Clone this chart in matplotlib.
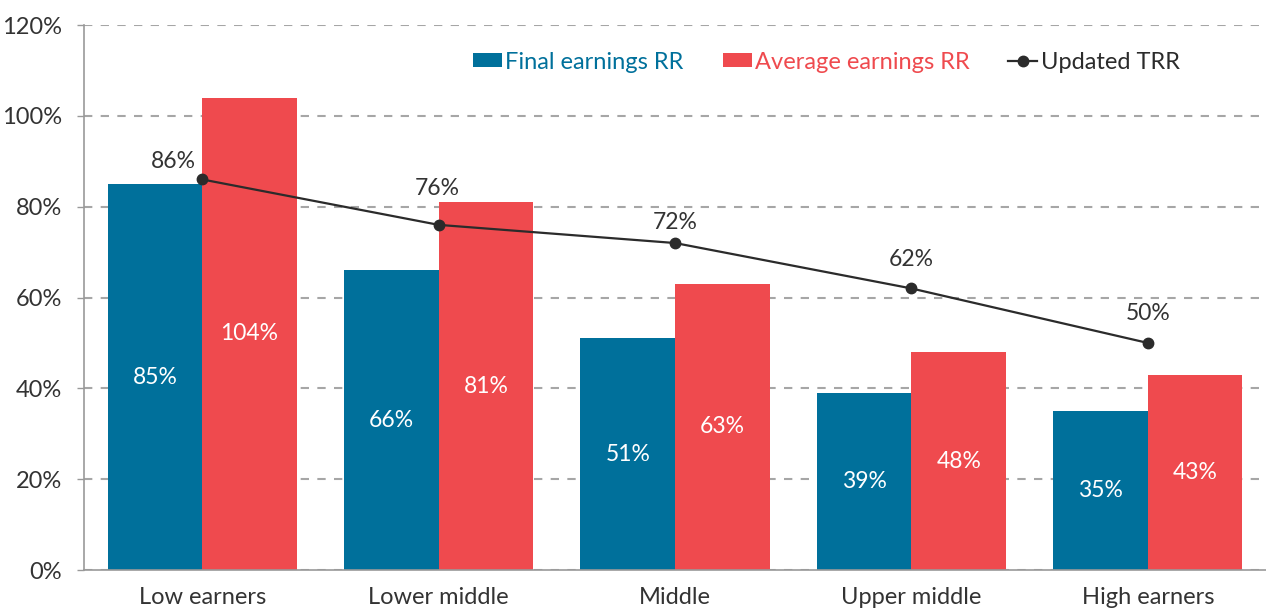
import matplotlib.pyplot as plt
import numpy as np

# Data
groups = ['Low earners', 'Lower middle', 'Middle', 'Upper middle', 'High earners']
final_rr = [85, 66, 51, 39, 35]
average_rr = [104, 81, 63, 48, 43]
updated_trr = [86, 76, 72, 62, 50]

# where the TRR labels sit relative to their point (points)
trr_label_offsets = [(-21, 13), (-1, 26), (0, 15), (0, 21), (0, 21)]

blue = '#00709b'
red = '#ef4a4e'
dark = '#2b2b2b'
text_col = '#333333'

plt.rcParams['font.family'] = ['Lato', 'DejaVu Sans']

fig = plt.figure(figsize=(12.66, 6.12), dpi=100)
ax = fig.add_axes([0.0664, 0.0686, 0.9336, 0.8905])

x = np.arange(len(groups))
w = 0.4
b1 = ax.bar(x - w / 2, final_rr, w, color=blue, label='Final earnings RR', zorder=2)
b2 = ax.bar(x + w / 2, average_rr, w, color=red, label='Average earnings RR', zorder=2)
ln, = ax.plot(x, updated_trr, color=dark, lw=1.6, marker='o', ms=7.5, label='Updated TRR', zorder=3)

# value labels inside bars
for bars, vals in ((b1, final_rr), (b2, average_rr)):
    for r, v in zip(bars, vals):
        ax.text(r.get_x() + r.get_width() / 2, v / 2, f'{v}%', ha='center', va='center',
                color='white', fontsize=16.5)

# labels above the line points
for xi, v, off in zip(x, updated_trr, trr_label_offsets):
    ax.annotate(f'{v}%', (xi, v), xytext=off, textcoords='offset points',
                ha='center', va='center', color=text_col, fontsize=16.5)

ax.set_xlim(-0.5, len(groups) - 0.5)
ax.set_ylim(0, 120)
ax.set_yticks(range(0, 121, 20))
ax.set_yticklabels([f'{t}%' for t in range(0, 121, 20)])
ax.set_xticks(x)
ax.set_xticklabels(groups)
ax.tick_params(axis='x', length=0, pad=12, labelsize=17, labelcolor=text_col)
ax.tick_params(axis='y', length=5, width=1, color='#999999', pad=11, labelsize=17, labelcolor=text_col)

ax.grid(axis='y', color='#a6a6a6', linestyle=(0, (4, 4)), linewidth=1.5, zorder=0)
ax.set_axisbelow(True)
for s in ('top', 'right'):
    ax.spines[s].set_visible(False)
ax.spines['left'].set_color('#999999')
ax.spines['bottom'].set_color('#999999')
ax.spines['left'].set_linewidth(1.2)
ax.spines['bottom'].set_linewidth(1.2)

leg = ax.legend(handles=[b1, b2, ln], loc='center', bbox_to_anchor=(0.628, 0.932), ncol=3,
                frameon=False, fontsize=17, handlelength=1.23, handleheight=0.55,
                handletextpad=0.13, columnspacing=1.65,
                labelcolor=[blue, red, dark])

fig.savefig('out.png', dpi=100)
